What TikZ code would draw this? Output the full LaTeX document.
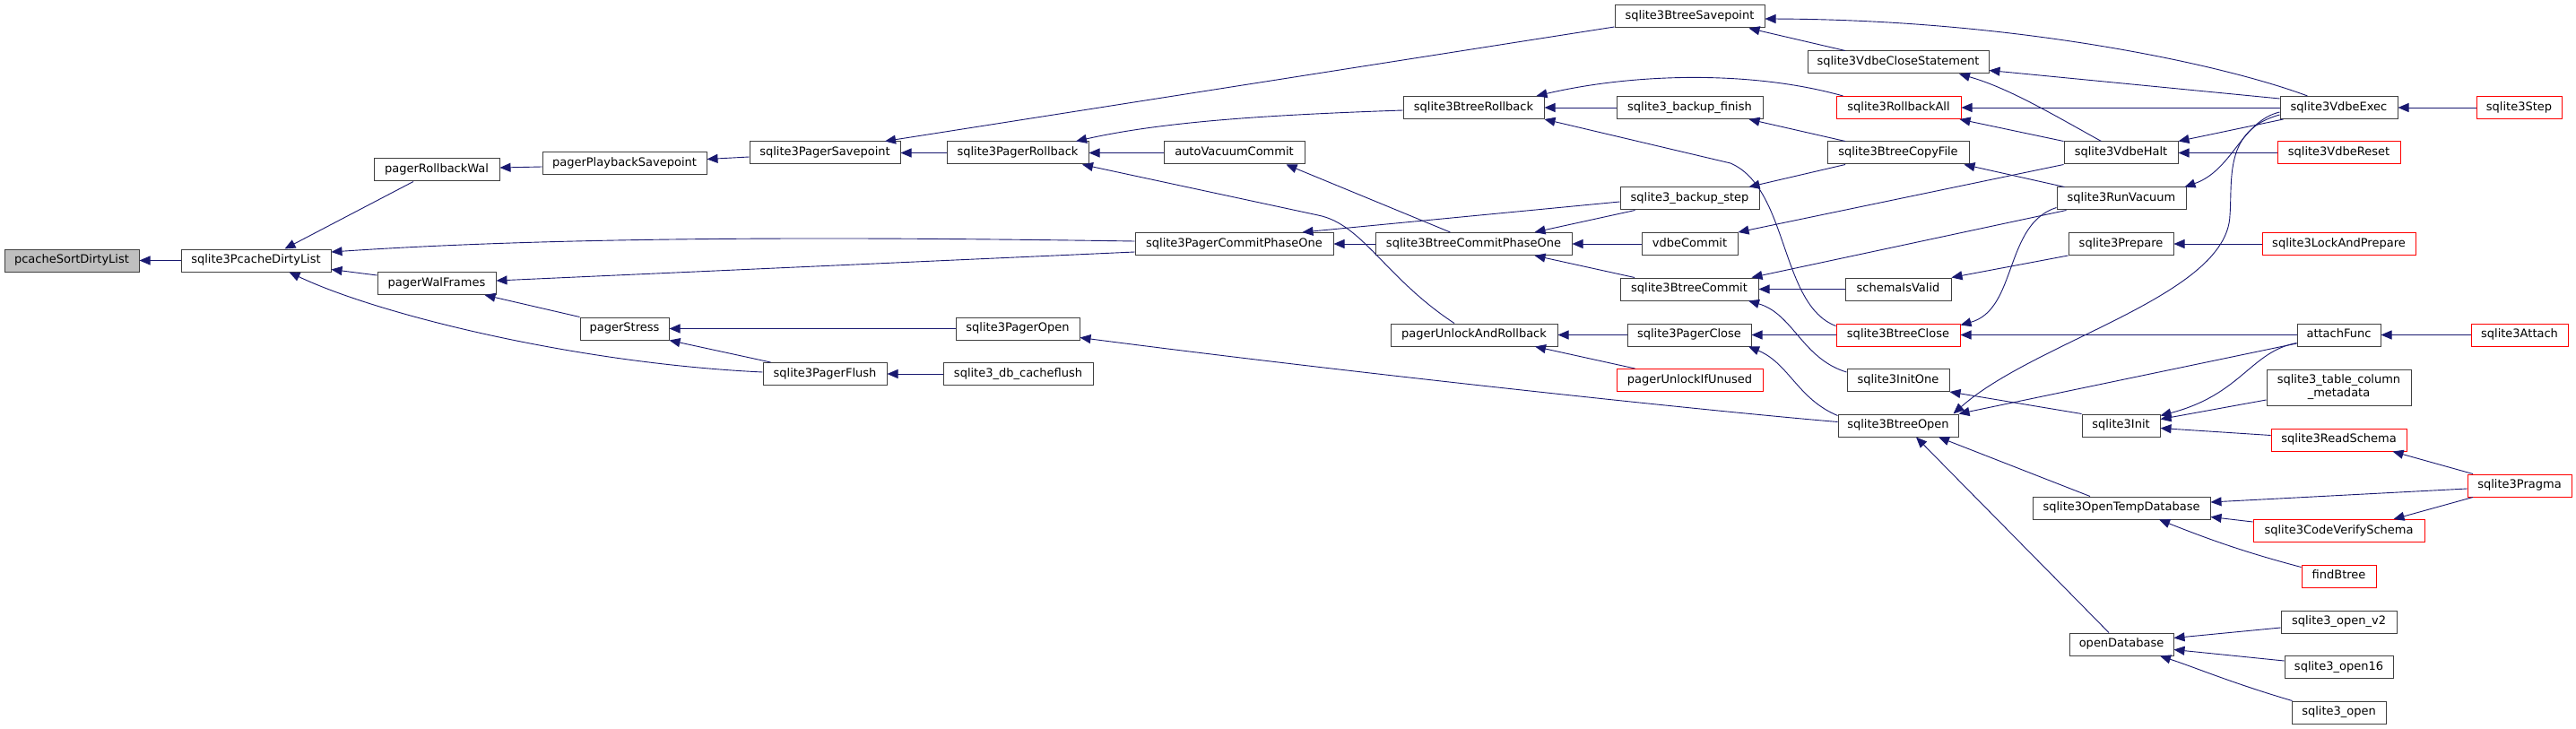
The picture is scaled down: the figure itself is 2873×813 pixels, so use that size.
\documentclass[tikz,border=0pt]{standalone}
\usepackage{fontspec}
\setmainfont{DejaVu Sans}
\usetikzlibrary{arrows.meta}
\definecolor{edgecol}{HTML}{191970}
\definecolor{bordercol}{HTML}{404040}
\definecolor{hilite}{HTML}{BFBFBF}
\begin{document}
\begin{tikzpicture}[x=1pt,y=-1pt,
  box/.style={draw=bordercol, line width=1pt, fill=white, minimum height=25pt, inner sep=0pt, font=\fontsize{13}{15}\selectfont},
  nbox/.style={box, text height=9.5pt, text depth=2.8pt},
  rbox/.style={nbox, draw=red},
  edge/.style={draw=edgecol, line width=0.9pt, -{Triangle[length=12pt,width=10pt]}}]
\useasboundingbox[fill=white] (0,0) rectangle (2873,813);
\node[nbox, fill=hilite, minimum width=150pt] (ps) at (80,290.5) {pcacheSortDirtyList};
\node[nbox, minimum width=167pt] (pcd) at (285.5,290.5) {sqlite3PcacheDirtyList};
\node[nbox, minimum width=140pt] (prw) at (487,189.5) {pagerRollbackWal};
\node[nbox, minimum width=132pt] (pwf) at (487,316) {pagerWalFrames};
\node[nbox, minimum width=183pt] (pps) at (696.5,182.5) {pagerPlaybackSavepoint};
\node[nbox, minimum width=99pt] (pst) at (696.5,366.5) {pagerStress};
\node[nbox, minimum width=168pt] (psv) at (920,170.5) {sqlite3PagerSavepoint};
\node[nbox, minimum width=138pt] (pfl) at (920,417) {sqlite3PagerFlush};
\node[nbox, minimum width=158pt] (prb) at (1135,170.5) {sqlite3PagerRollback};
\node[nbox, minimum width=138pt] (pop) at (1135,366.5) {sqlite3PagerOpen};
\node[nbox, minimum width=167pt] (dbc) at (1135.5,417) {sqlite3\_db\_cacheflush};
\node[nbox, minimum width=157pt] (avc) at (1376.5,170.5) {autoVacuumCommit};
\node[nbox, minimum width=221pt] (pcp) at (1376.5,272) {sqlite3PagerCommitPhaseOne};
\node[nbox, minimum width=167pt] (bsv) at (1884.5,18.5) {sqlite3BtreeSavepoint};
\node[nbox, minimum width=157pt] (brb) at (1643.5,120) {sqlite3BtreeRollback};
\node[nbox, minimum width=219pt] (bcp) at (1643.5,272) {sqlite3BtreeCommitPhaseOne};
\node[nbox, minimum width=186pt] (pur) at (1644,373.5) {pagerUnlockAndRollback};
\node[nbox, minimum width=163pt] (bfin) at (1884.5,120) {sqlite3\_backup\_finish};
\node[nbox, minimum width=155pt] (bstep) at (1884.5,221.5) {sqlite3\_backup\_step};
\node[nbox, minimum width=107pt] (vcm) at (1884.5,272) {vdbeCommit};
\node[nbox, minimum width=154pt] (bcm) at (1884,322.5) {sqlite3BtreeCommit};
\node[nbox, minimum width=138pt] (pcl) at (1884,373.5) {sqlite3PagerClose};
\node[rbox, minimum width=163pt] (puu) at (1884.5,424) {pagerUnlockIfUnused};
\node[nbox, minimum width=202pt] (vcs) at (2117,69.5) {sqlite3VdbeCloseStatement};
\node[rbox, minimum width=139pt] (rba) at (2117.5,120) {sqlite3RollbackAll};
\node[nbox, minimum width=158pt] (bcf) at (2117,170.5) {sqlite3BtreeCopyFile};
\node[nbox, minimum width=118pt] (siv) at (2117,322.5) {schemaIsValid};
\node[rbox, minimum width=138pt] (bcl) at (2117,373.5) {sqlite3BtreeClose};
\node[nbox, minimum width=114pt] (ino) at (2117,424) {sqlite3InitOne};
\node[nbox, minimum width=134pt] (bop) at (2117,474.5) {sqlite3BtreeOpen};
\node[nbox, minimum width=127pt] (vha) at (2365.5,170.5) {sqlite3VdbeHalt};
\node[nbox, minimum width=144pt] (rvc) at (2366,221.5) {sqlite3RunVacuum};
\node[nbox, minimum width=117pt] (prp) at (2365.5,272) {sqlite3Prepare};
\node[nbox, minimum width=87pt] (ini) at (2365.5,474.5) {sqlite3Init};
\node[nbox, minimum width=198pt] (otd) at (2366,566.5) {sqlite3OpenTempDatabase};
\node[nbox, minimum width=116pt] (odb) at (2366,718.5) {openDatabase};
\node[nbox, minimum width=131pt] (vex) at (2608.5,120) {sqlite3VdbeExec};
\node[rbox, minimum width=137pt] (vrs) at (2608.5,170.5) {sqlite3VdbeReset};
\node[rbox, minimum width=171pt] (lap) at (2608.5,272) {sqlite3LockAndPrepare};
\node[nbox, minimum width=93pt] (atf) at (2608.5,373.5) {attachFunc};
\node[box, minimum width=161pt, minimum height=40pt, align=center] (tcm) at (2608.5,432) {sqlite3\_table\_column\\\_metadata};
\node[rbox, minimum width=151pt] (rsc) at (2608.5,490.5) {sqlite3ReadSchema};
\node[rbox, minimum width=191pt] (cvs) at (2608.5,592) {sqlite3CodeVerifySchema};
\node[rbox, minimum width=83pt] (fbt) at (2608.5,642.5) {findBtree};
\node[nbox, minimum width=129pt] (ov2) at (2608.5,693.5) {sqlite3\_open\_v2};
\node[nbox, minimum width=121pt] (o16) at (2608.5,744) {sqlite3\_open16};
\node[nbox, minimum width=105pt] (oo) at (2608.5,794.5) {sqlite3\_open};
\node[rbox, minimum width=95pt] (stp) at (2809.5,120) {sqlite3Step};
\node[rbox, minimum width=108pt] (att) at (2810,373.5) {sqlite3Attach};
\node[rbox, minimum width=116pt] (prg) at (2810,541.5) {sqlite3Pragma};
% edges
\draw[edge] (pcd.west) -- (ps.east);
\draw[edge] ([xshift=-26pt]prw.south) -- ([xshift=32pt]pcd.north);
\draw[edge] ([yshift=3pt]pcp.west) .. controls (1000,265) and (650,262) .. ([yshift=9.5pt]pcd.east);
\draw[edge] ([yshift=9pt]pwf.west) -- ([yshift=-10pt]pcd.east);
\draw[edge] ([yshift=2pt]pfl.west) .. controls (640,405) and (420,350) .. ([xshift=37pt]pcd.south);
\draw[edge] ([yshift=-3.5pt]pps.west) -- ([yshift=2.5pt]prw.east);
\draw[edge] ([yshift=-4.5pt]psv.west) -- ([yshift=5pt]pps.east);
\draw[edge] ([yshift=-9pt]pcp.west) -- ([yshift=3pt]pwf.east);
\draw[edge] (pst.north west) -- ([xshift=-13pt]pwf.south east);
\draw[edge] (pop.west) -- (pst.east);
\draw[edge] ([xshift=9pt]pfl.north west) -- (pst.south east);
\draw[edge] (dbc.west) -- (pfl.east);
\draw[edge] (prb.west) -- (psv.east);
\draw[edge] ([yshift=-11.5pt]bsv.west) -- ([xshift=67pt]psv.north);
\draw[edge] (avc.west) -- (prb.east);
\draw[edge] ([yshift=-3pt]brb.west) .. controls (1420,128) and (1300,135) .. ([xshift=65pt]prb.north);
\draw[edge] ([xshift=-22pt]pur.north) .. controls (1545,310) and (1520,250) .. (1470,240) -- ([xshift=72pt]prb.south);
\draw[edge] ([xshift=-26pt]bcp.north) -- ([xshift=58pt]avc.south);
\draw[edge] (bcp.west) -- (pcp.east);
\draw[edge] ([yshift=-3.5pt]bstep.west) -- ([xshift=76pt]pcp.north);
\draw[edge] ([yshift=4pt]bop.west) .. controls (1900,458) and (1500,415) .. ([yshift=-10pt]pop.east);
\draw[edge] ([xshift=-62pt]rba.north) .. controls (1960,80) and (1830,80) .. ([xshift=70pt]brb.north);
\draw[edge] (bfin.west) -- (brb.east);
\draw[edge] ([yshift=10pt]bcl.west) .. controls (1985,340) and (1995,210) .. (1930,182) -- (brb.south east);
\draw[edge] ([xshift=-61pt]bstep.south) -- ([xshift=68pt]bcp.north);
\draw[edge] (vcm.west) -- (bcp.east);
\draw[edge] ([xshift=-61pt]bcm.north) -- ([xshift=68pt]bcp.south);
\draw[edge] (pcl.west) -- (pur.east);
\draw[edge] ([xshift=-61pt]puu.north) -- ([xshift=68pt]pur.south);
\draw[edge] ([xshift=-59pt]vcs.north) -- ([xshift=66pt]bsv.south);
\draw[edge] ([xshift=-35pt]vex.north) .. controls (2480,72) and (2250,22) .. ([yshift=-2.5pt]bsv.east);
\draw[edge] ([xshift=-59pt]bcf.north) -- ([xshift=66pt]bfin.south);
\draw[edge] ([xshift=-59pt]bcf.south) -- ([xshift=66pt]bstep.north);
\draw[edge] (vha.south west) -- (vcm.north east);
\draw[edge] ([xshift=11pt]rvc.south west) -- ([xshift=-8pt]bcm.north east);
\draw[edge] (siv.west) -- (bcm.east);
\draw[edge] ([yshift=9pt]ino.west) .. controls (2010,400) and (2000,350) .. ([xshift=66pt]bcm.south);
\draw[edge] (bcl.west) -- (pcl.east);
\draw[edge] ([yshift=11pt]bop.west) .. controls (2005,445) and (1995,405) .. ([xshift=66pt]pcl.south);
\draw[edge] ([yshift=10pt]vex.west) -- ([yshift=-9pt]vcs.east);
\draw[edge] ([xshift=-22pt]vha.north) .. controls (2290,128) and (2240,98) .. ([xshift=68pt]vcs.south);
\draw[edge] (vex.west) -- (rba.east);
\draw[edge] (vha.north west) -- ([xshift=68pt]rba.south);
\draw[edge] ([xshift=9pt]rvc.north west) -- ([xshift=-6pt]bcf.south east);
\draw[edge] (prp.south west) -- (siv.north east);
\draw[edge] ([yshift=-10pt]rvc.west) .. controls (2235,250) and (2250,345) .. ([yshift=11pt]bcl.east);
\draw[edge] (atf.west) -- (bcl.east);
\draw[edge] ([yshift=-8pt]vex.west) .. controls (2480,145) and (2490,200) .. (2487,240) .. controls (2484,330) and (2270,380) .. ([xshift=-6pt]bop.north east);
\draw[edge] ([yshift=-5pt]vex.west) .. controls (2500,135) and (2490,190) .. ([xshift=-2pt]rvc.north east);
\draw[edge] ([xshift=4pt]vex.south west) -- (vha.north east);
\draw[edge] (vrs.west) -- (vha.east);
\draw[edge] (stp.west) -- (vex.east);
\draw[edge] (lap.west) -- (prp.east);
\draw[edge] (att.west) -- (atf.east);
\draw[edge] ([yshift=-9.5pt]atf.west) -- (bop.north east);
\draw[edge] (ini.north west) -- (ino.south east);
\draw[edge] ([xshift=-35pt]otd.north) -- ([xshift=45pt]bop.south);
\draw[edge] ([xshift=-14pt]odb.north) -- ([xshift=20pt]bop.south);
\draw[edge] ([yshift=-14pt]tcm.west) -- ([yshift=7pt]ini.east);
\draw[edge] ([yshift=5pt]rsc.west) -- ([yshift=-3pt]ini.east);
\draw[edge] ([yshift=-9pt]atf.west) .. controls (2510,392) and (2500,440) .. ([yshift=11pt]ini.east);
\draw[edge] ([yshift=-3.5pt]prg.west) -- ([yshift=6.5pt]otd.east);
\draw[edge] ([yshift=10pt]cvs.west) -- ([yshift=-10pt]otd.east);
\draw[edge] ([yshift=10pt]fbt.west) .. controls (2500,615) and (2460,600) .. ([xshift=42pt]otd.south);
\draw[edge] ([xshift=-52pt]prg.north) -- ([xshift=-16pt]rsc.south east);
\draw[edge] ([xshift=-52pt]prg.south) -- ([xshift=61pt]cvs.north);
\draw[edge] ([yshift=-6.5pt]ov2.west) -- ([yshift=7pt]odb.east);
\draw[edge] ([yshift=7pt]o16.west) -- ([yshift=-6pt]odb.east);
\draw[edge] ([xshift=-52pt]oo.north) .. controls (2490,762) and (2450,745) .. ([xshift=43pt]odb.south);
\end{tikzpicture}
\end{document}
